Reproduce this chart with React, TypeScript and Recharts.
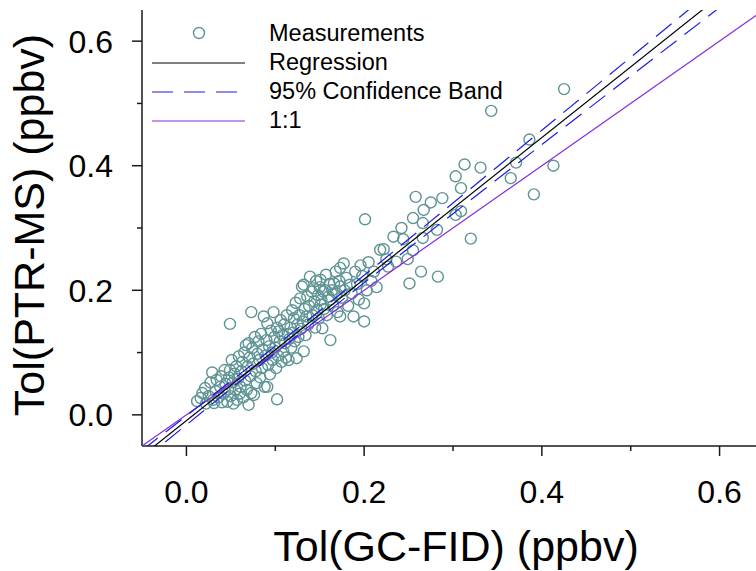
import React from 'react'
import { ScatterChart, Scatter, XAxis, YAxis, Legend } from 'recharts'

const FONT = '"Liberation Sans", Arial, sans-serif'

// Tol(GC-FID) (x) vs Tol(PTR-MS) (y), ppbv
const lowCluster: [number, number][] = [
  [0.012, 0.022], [0.016, 0.027], [0.018, 0.035], [0.021, 0.043], [0.022, 0.018],
  [0.025, 0.030], [0.027, 0.052], [0.029, 0.068], [0.030, 0.024], [0.031, 0.019],
  [0.033, 0.038], [0.034, 0.056], [0.036, 0.028], [0.038, 0.045], [0.039, 0.062],
  [0.040, 0.020], [0.042, 0.034], [0.043, 0.072], [0.044, 0.050], [0.046, 0.021],
  [0.047, 0.041], [0.048, 0.060], [0.049, 0.072], [0.050, 0.030], [0.051, 0.088],
  [0.052, 0.052], [0.053, 0.018], [0.054, 0.066], [0.055, 0.040], [0.056, 0.078],
  [0.057, 0.024], [0.058, 0.058], [0.059, 0.094], [0.060, 0.034], [0.049, 0.146],
]

const midCluster: [number, number][] = [
  [0.061, 0.045], [0.062, 0.070], [0.063, 0.085], [0.064, 0.028], [0.065, 0.100],
  [0.066, 0.055], [0.067, 0.112], [0.068, 0.040], [0.069, 0.078], [0.070, 0.016],
  [0.070, 0.115], [0.071, 0.092], [0.072, 0.062], [0.073, 0.035], [0.074, 0.107],
  [0.075, 0.082], [0.076, 0.032], [0.077, 0.125], [0.078, 0.070], [0.079, 0.051],
  [0.080, 0.098], [0.081, 0.118], [0.082, 0.088], [0.083, 0.060], [0.084, 0.130],
  [0.085, 0.075], [0.086, 0.105], [0.087, 0.158], [0.088, 0.045], [0.089, 0.095],
  [0.090, 0.120], [0.091, 0.147], [0.091, 0.045], [0.092, 0.080], [0.093, 0.110],
  [0.094, 0.065], [0.095, 0.135], [0.096, 0.100], [0.097, 0.088], [0.098, 0.165],
  [0.099, 0.125], [0.073, 0.165],
  [0.100, 0.108], [0.101, 0.075], [0.102, 0.025], [0.102, 0.140], [0.103, 0.095],
  [0.104, 0.134], [0.105, 0.118], [0.106, 0.152], [0.107, 0.085], [0.108, 0.128],
  [0.109, 0.102], [0.110, 0.145], [0.111, 0.115], [0.112, 0.092], [0.113, 0.160],
  [0.114, 0.130], [0.115, 0.088], [0.116, 0.122], [0.117, 0.140], [0.118, 0.108],
  [0.119, 0.168], [0.120, 0.132], [0.121, 0.155], [0.122, 0.118], [0.123, 0.180],
  [0.124, 0.091], [0.125, 0.145], [0.126, 0.125], [0.127, 0.160], [0.128, 0.187],
  [0.129, 0.138], [0.130, 0.206], [0.131, 0.150], [0.132, 0.102], [0.132, 0.209],
  [0.133, 0.170], [0.134, 0.128], [0.135, 0.158], [0.136, 0.190], [0.137, 0.145],
  [0.138, 0.175], [0.139, 0.222],
]

const highCluster: [number, number][] = [
  [0.141, 0.198], [0.142, 0.160], [0.143, 0.203], [0.144, 0.182], [0.145, 0.140],
  [0.146, 0.215], [0.147, 0.168], [0.148, 0.192], [0.149, 0.155], [0.150, 0.205],
  [0.151, 0.217], [0.151, 0.177], [0.152, 0.185], [0.153, 0.139], [0.154, 0.198],
  [0.155, 0.170], [0.156, 0.200], [0.157, 0.225], [0.158, 0.160], [0.160, 0.190],
  [0.161, 0.210], [0.162, 0.185], [0.162, 0.120], [0.164, 0.200], [0.165, 0.175],
  [0.166, 0.211], [0.168, 0.230], [0.169, 0.195], [0.170, 0.165], [0.172, 0.215],
  [0.173, 0.206], [0.173, 0.158], [0.173, 0.236], [0.175, 0.188], [0.177, 0.243],
  [0.178, 0.200], [0.180, 0.220], [0.182, 0.175], [0.184, 0.209], [0.186, 0.195],
  [0.188, 0.158], [0.190, 0.230], [0.192, 0.210], [0.194, 0.185], [0.196, 0.240],
  [0.198, 0.223], [0.200, 0.179], [0.200, 0.150], [0.201, 0.314],
  [0.203, 0.200], [0.205, 0.245], [0.208, 0.215], [0.211, 0.230], [0.214, 0.205],
  [0.218, 0.265], [0.222, 0.266], [0.225, 0.250], [0.227, 0.238], [0.233, 0.286],
  [0.236, 0.246], [0.242, 0.300], [0.244, 0.282], [0.249, 0.250], [0.251, 0.211],
  [0.255, 0.316], [0.255, 0.264], [0.258, 0.350], [0.264, 0.230], [0.266, 0.308],
  [0.266, 0.284], [0.267, 0.329], [0.275, 0.341], [0.282, 0.297], [0.283, 0.222],
  [0.288, 0.348],
]

const upperPoints: [number, number][] = [
  [0.303, 0.383], [0.303, 0.321], [0.309, 0.364], [0.309, 0.327], [0.313, 0.402],
  [0.320, 0.283], [0.331, 0.397], [0.343, 0.488], [0.365, 0.380], [0.371, 0.405],
  [0.386, 0.442], [0.391, 0.354], [0.413, 0.400], [0.425, 0.523],
]

// lines, read at the frame edges
const regressionX = [-0.05, 0.65]
const regressionY = [-0.066, 0.729]
const bandX = [-0.05, 0.05, 0.12, 0.2, 0.3, 0.4, 0.5, 0.65]
const bandUpper = [-0.057, 0.054, 0.133, 0.224, 0.34, 0.457, 0.574, 0.75]
const bandLower = [-0.074, 0.042, 0.122, 0.212, 0.323, 0.434, 0.544, 0.709]
const oneToOneX = [-0.05, 0.65]
const oneToOneY = [-0.05, 0.65]

const axisTicks = [0, 0.1, 0.2, 0.3, 0.4, 0.5, 0.6]

const MARKER = '#5f9494'
const BAND = '#1c1ce6'
const ONE_TO_ONE = '#8a2be2'
const AXIS = '#1a1a1a'

const toPoints = (xs: number[], ys: number[]) => xs.map((x, i) => ({ x, y: ys[i] }))
const measurements = [...lowCluster, ...midCluster, ...highCluster, ...upperPoints].map(
  ([x, y]) => ({ x, y })
)

const isMajor = (v: number) => Math.round(v * 10) % 2 === 0

const XTick = ({ x, y, payload }: any) => {
  const major = isMajor(payload.value)
  return (
    <g>
      <line x1={x} x2={x} y1={y} y2={y + (major ? 10 : 5)} stroke={AXIS} strokeWidth={1.5} />
      {major && (
        <text x={x} y={y + 57} textAnchor="middle" fontSize={32} fontFamily={FONT} fill="#000">
          {payload.value.toFixed(1)}
        </text>
      )}
    </g>
  )
}

const YTick = ({ x, y, payload }: any) => {
  const major = isMajor(payload.value)
  return (
    <g>
      <line x1={x} x2={x - (major ? 10 : 5)} y1={y} y2={y} stroke={AXIS} strokeWidth={1.5} />
      {major && (
        <text x={x - 29} y={y + 11.5} textAnchor="end" fontSize={32} fontFamily={FONT} fill="#000">
          {payload.value.toFixed(1)}
        </text>
      )}
    </g>
  )
}

const XTitle = () => (
  <text x={456} y={561} textAnchor="middle" fontSize={43} fontFamily={FONT} fill="#000">
    Tol(GC-FID) (ppbv)
  </text>
)

const YTitle = () => (
  <text
    transform="translate(44,225) rotate(-90)"
    textAnchor="middle"
    fontSize={43}
    fontFamily={FONT}
    fill="#000"
  >
    Tol(PTR-MS) (ppbv)
  </text>
)

const Ring = ({ cx, cy }: any) => (
  <circle cx={cx} cy={cy} r={5.5} fill="none" stroke={MARKER} strokeWidth={1.4} />
)
const NoDot = () => <g />

const LegendBox = () => {
  const rows = ['Measurements', 'Regression', '95% Confidence Band', '1:1']
  return (
    <svg width={400} height={130} style={{ display: 'block' }}>
      <circle cx={49} cy={18} r={5.5} fill="none" stroke={MARKER} strokeWidth={1.4} />
      <line x1={2} x2={95} y1={48} y2={48} stroke="#000" strokeWidth={1.2} />
      <line x1={2} x2={95} y1={77} y2={77} stroke={BAND} strokeWidth={1.2} strokeDasharray="21 11" />
      <line x1={2} x2={95} y1={106} y2={106} stroke={ONE_TO_ONE} strokeWidth={1.2} />
      {rows.map((r, i) => (
        <text key={r} x={119} y={26 + i * 29} fontSize={23.5} fontFamily={FONT} fill="#000">
          {r}
        </text>
      ))}
    </svg>
  )
}

export default function App() {
  return (
    <div
      style={{
        position: 'absolute',
        left: 0,
        top: 0,
        width: 756,
        height: 571,
        overflow: 'hidden',
        background: '#fff',
      }}
    >
      <ScatterChart width={780} height={571} margin={{ top: 10, right: 16, bottom: 65, left: 0 }}>
        <XAxis
          dataKey="x"
          type="number"
          domain={[-0.05, 0.65]}
          ticks={axisTicks}
          interval={0}
          allowDataOverflow
          height={60}
          tickSize={0}
          tickMargin={0}
          tickLine={false}
          tick={<XTick />}
          axisLine={{ stroke: AXIS, strokeWidth: 1.5 }}
          label={XTitle}
        />
        <XAxis
          xAxisId="top"
          orientation="top"
          dataKey="x"
          type="number"
          domain={[-0.05, 0.65]}
          allowDataOverflow
          height={0}
          tick={false}
          tickLine={false}
          axisLine={{ stroke: AXIS, strokeWidth: 1.5 }}
        />
        <YAxis
          dataKey="y"
          type="number"
          domain={[-0.05, 0.65]}
          ticks={axisTicks}
          interval={0}
          allowDataOverflow
          width={142}
          tickSize={0}
          tickMargin={0}
          tickLine={false}
          tick={<YTick />}
          axisLine={{ stroke: AXIS, strokeWidth: 1.5 }}
          label={YTitle}
        />
        <Legend
          layout="vertical"
          align="center"
          verticalAlign="middle"
          content={LegendBox}
          wrapperStyle={{ left: 150, top: 15, width: 400, height: 130 }}
        />
        <Scatter
          name="Measurements"
          data={measurements}
          shape={<Ring />}
          isAnimationActive={false}
        />
        <Scatter
          name="1:1"
          data={toPoints(oneToOneX, oneToOneY)}
          line={{ stroke: ONE_TO_ONE, strokeWidth: 1.2 }}
          lineType="joint"
          shape={<NoDot />}
          isAnimationActive={false}
        />
        <Scatter
          name="Upper band"
          data={toPoints(bandX, bandUpper)}
          line={{ stroke: BAND, strokeWidth: 1.2, strokeDasharray: '20 10' }}
          lineType="joint"
          shape={<NoDot />}
          isAnimationActive={false}
        />
        <Scatter
          name="Lower band"
          data={toPoints(bandX, bandLower)}
          line={{ stroke: BAND, strokeWidth: 1.2, strokeDasharray: '20 10' }}
          lineType="joint"
          shape={<NoDot />}
          isAnimationActive={false}
        />
        <Scatter
          name="Regression"
          data={toPoints(regressionX, regressionY)}
          line={{ stroke: '#000', strokeWidth: 1.2 }}
          lineType="joint"
          shape={<NoDot />}
          isAnimationActive={false}
        />
      </ScatterChart>
    </div>
  )
}
